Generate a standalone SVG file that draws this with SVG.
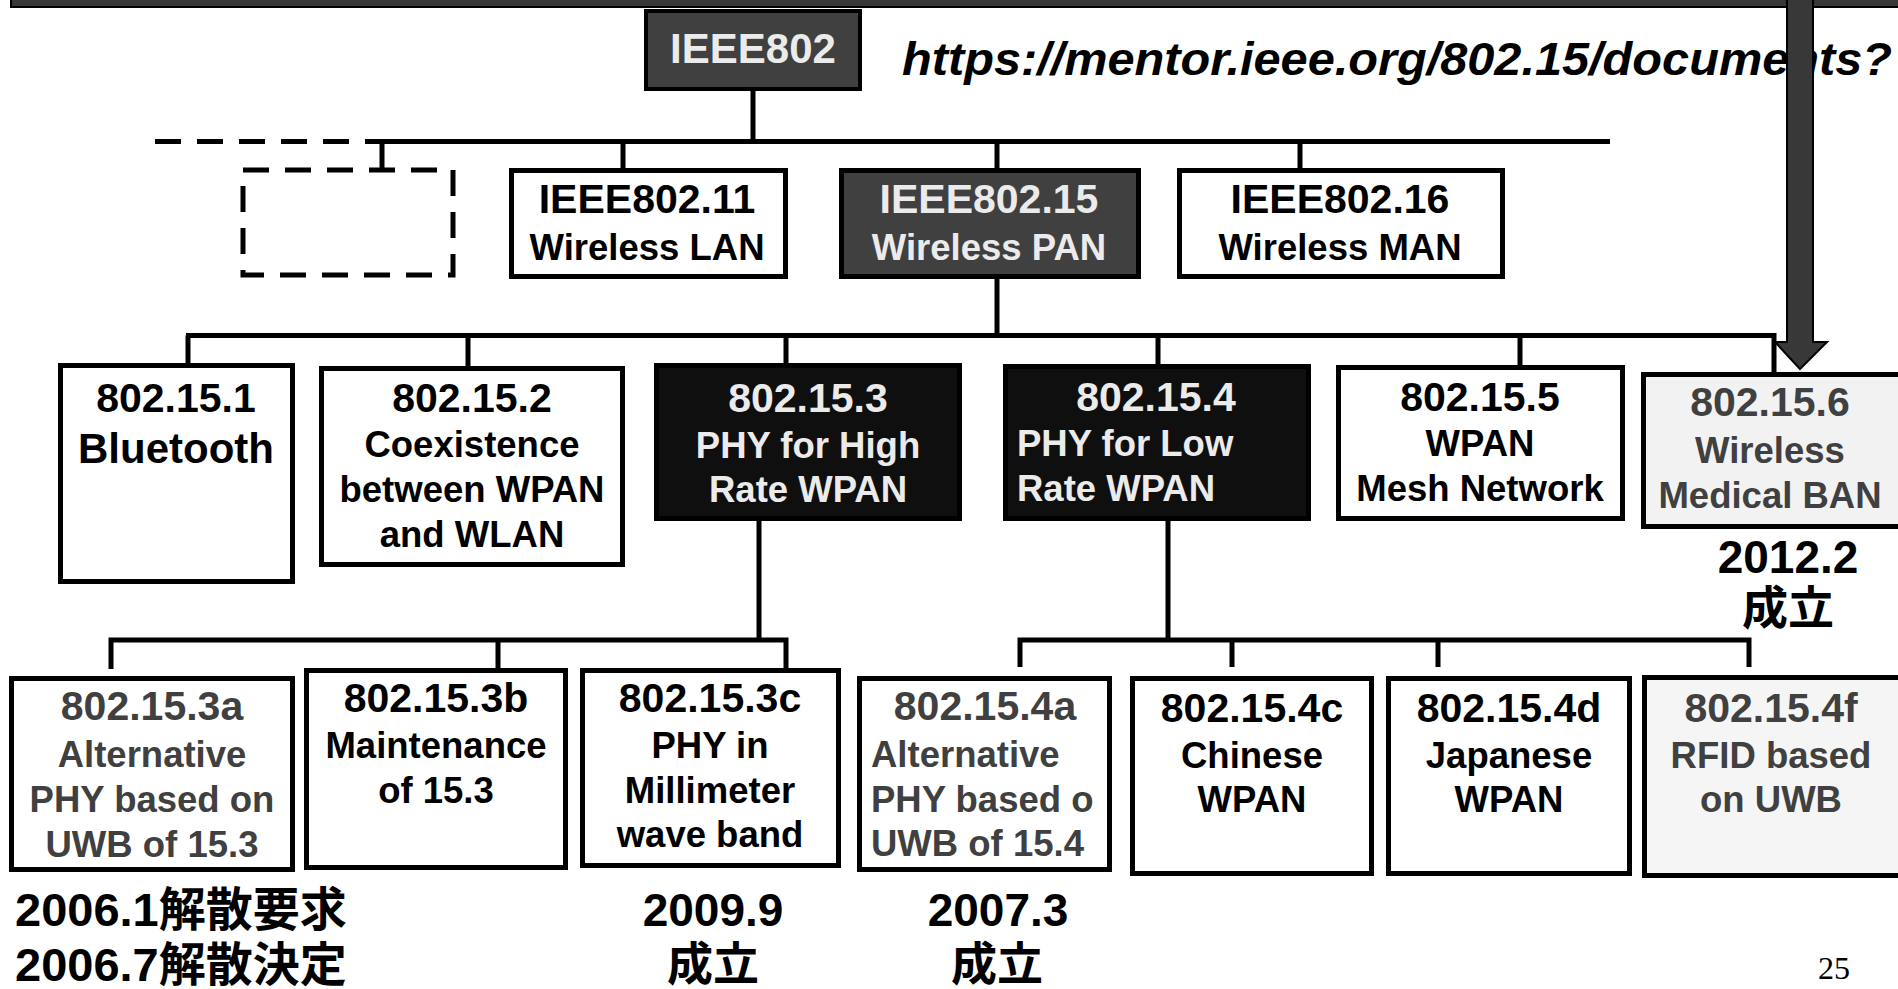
<svg xmlns="http://www.w3.org/2000/svg" width="1898" height="989" viewBox="0 0 1898 989">
<style>
text{font-family:"Liberation Sans","Noto Sans CJK JP",sans-serif;font-weight:bold;text-anchor:middle}
.t{font-size:41px}
.d{font-size:36.5px}
.big{font-size:46px}
.w{fill:#ffffff;stroke:#000;stroke-width:5}
.k{fill:#0f0f0f;stroke:#000;stroke-width:5}
.g{fill:#404040;stroke:#000;stroke-width:4}
.l{fill:#f2f2f2;stroke:#000;stroke-width:5}
.lt{fill:#ebebeb}
.gt{fill:#404040}
.bt{fill:#000}
.c{fill:none;stroke:#000;stroke-width:5}
.dash{fill:none;stroke:#000;stroke-width:5;stroke-dasharray:26 16}
</style>
<rect x="0" y="0" width="1898" height="989" fill="#fff"/>
<rect x="11" y="-10" width="1900" height="17" fill="#383838" stroke="#000" stroke-width="2"/>
<text x="902" y="75" style="font-size:46px;font-style:italic;text-anchor:start" textLength="990" lengthAdjust="spacingAndGlyphs">https://mentor.ieee.org/802.15/documents?</text>
<g id="connectors">
<path class="c" d="M753 91V141.5M370 141.5H1610M382 141.5V170M623 141.5V168M997 141.5V168M1300 141.5V168"/>
<path class="dash" d="M155 141.5H370"/>
<path class="c" d="M997 279V335.5M186 335.5H1774V379M188 335.5V364M468 335.5V367M786 335.5V364M1158 335.5V365M1520 335.5V366"/>
<path class="c" d="M759 521V640M108.5 640H788.5M111 640V669M498 640V669M786 640V669"/>
<path class="c" d="M1168 521V640M1017.5 640H1751.5M1020 640V667M1232 640V667M1438 640V667M1749 640V667"/>
</g>
<g id="ieee802"><rect class="g" x="646" y="11" width="214" height="78"/><text class="lt" x="753" y="63" style="font-size:42px">IEEE802</text></g>
<g id="dashed-node"><rect class="dash" x="243" y="170" width="210" height="105"/></g>
<g id="ieee802-11"><rect class="w" x="511.5" y="170.5" width="274" height="106"/><text class="t bt" x="647" y="213">IEEE802.11</text><text class="d bt" x="647" y="260">Wireless LAN</text></g>
<g id="ieee802-15"><rect class="g" x="841.5" y="170.5" width="297" height="106" style="stroke-width:5"/><text class="t lt" x="989" y="213">IEEE802.15</text><text class="d lt" x="989" y="260">Wireless PAN</text></g>
<g id="ieee802-16"><rect class="w" x="1179.5" y="170.5" width="323" height="106"/><text class="t bt" x="1340" y="213">IEEE802.16</text><text class="d bt" x="1340" y="260">Wireless MAN</text></g>
<g id="n802-15-1"><rect class="w" x="60.5" y="365.5" width="232" height="216"/><text class="t bt" x="176" y="412">802.15.1</text><text class="bt" x="176" y="463" style="font-size:42px">Bluetooth</text></g>
<g id="n802-15-2"><rect class="w" x="321.5" y="368.5" width="301" height="196"/><text class="t bt" x="472" y="412">802.15.2</text><text class="d bt" x="472" y="457">Coexistence</text><text class="d bt" x="472" y="502">between WPAN</text><text class="d bt" x="472" y="547">and WLAN</text></g>
<g id="n802-15-3"><rect class="k" x="656.5" y="365.5" width="303" height="153"/><text class="t lt" x="808" y="412">802.15.3</text><text class="d lt" x="808" y="458">PHY for High</text><text class="d lt" x="808" y="502">Rate WPAN</text></g>
<g id="n802-15-4"><rect class="k" x="1005.5" y="366.5" width="303" height="152"/><text class="t lt" x="1156" y="411">802.15.4</text><text class="d lt" x="1017" y="456" style="text-anchor:start">PHY for Low</text><text class="d lt" x="1017" y="501" style="text-anchor:start">Rate WPAN</text></g>
<g id="n802-15-5"><rect class="w" x="1338.5" y="367.5" width="284" height="151"/><text class="t bt" x="1480" y="411">802.15.5</text><text class="d bt" x="1480" y="456">WPAN</text><text class="d bt" x="1480" y="501">Mesh Network</text></g>
<g id="n802-15-6"><rect class="l" x="1643.5" y="374.5" width="262" height="152"/><text class="t gt" x="1770" y="416">802.15.6</text><text class="d gt" x="1770" y="463">Wireless</text><text class="d gt" x="1770" y="508">Medical BAN</text></g>
<g id="n802-15-3a"><rect class="w" x="11.5" y="678.5" width="281" height="191"/><text class="t gt" x="152" y="720">802.15.3a</text><text class="d gt" x="152" y="767">Alternative</text><text class="d gt" x="152" y="812">PHY based on</text><text class="d gt" x="152" y="857">UWB of 15.3</text></g>
<g id="n802-15-3b"><rect class="w" x="306.5" y="670.5" width="259" height="197"/><text class="t bt" x="436" y="712">802.15.3b</text><text class="d bt" x="436" y="758">Maintenance</text><text class="d bt" x="436" y="803">of 15.3</text></g>
<g id="n802-15-3c"><rect class="w" x="582.5" y="670.5" width="256" height="195"/><text class="t bt" x="710" y="712">802.15.3c</text><text class="d bt" x="710" y="758">PHY in</text><text class="d bt" x="710" y="803">Millimeter</text><text class="d bt" x="710" y="847">wave band</text></g>
<g id="n802-15-4a"><rect class="w" x="859.5" y="678.5" width="250" height="191"/><text class="t gt" x="985" y="720">802.15.4a</text><text class="d gt" x="871" y="767" style="text-anchor:start">Alternative</text><text class="d gt" x="871" y="812" style="text-anchor:start">PHY based o</text><text class="d gt" x="871" y="856" style="text-anchor:start">UWB of 15.4</text></g>
<g id="n802-15-4c"><rect class="w" x="1132.5" y="678.5" width="239" height="195"/><text class="t bt" x="1252" y="722">802.15.4c</text><text class="d bt" x="1252" y="768">Chinese</text><text class="d bt" x="1252" y="812">WPAN</text></g>
<g id="n802-15-4d"><rect class="w" x="1388.5" y="678.5" width="241" height="195"/><text class="t bt" x="1509" y="722">802.15.4d</text><text class="d bt" x="1509" y="768">Japanese</text><text class="d bt" x="1509" y="812">WPAN</text></g>
<g id="n802-15-4f"><rect class="l" x="1644.5" y="677.5" width="262" height="198" style="fill:#f5f5f5"/><text class="t gt" x="1771" y="722">802.15.4f</text><text class="d gt" x="1771" y="768">RFID based</text><text class="d gt" x="1771" y="812">on UWB</text></g>
<g id="notes">
<text class="big bt" x="1788" y="573">2012.2</text><text class="big bt" x="1788" y="624">成立</text>
<text class="bt" x="15" y="926" style="text-anchor:start;font-size:47px">2006.1解散要求</text>
<text class="bt" x="15" y="981" style="text-anchor:start;font-size:47px">2006.7解散決定</text>
<text class="big bt" x="713" y="926">2009.9</text><text class="big bt" x="713" y="980">成立</text>
<text class="big bt" x="998" y="926">2007.3</text><text class="big bt" x="997" y="980">成立</text>
<text x="1834" y="979" style="font-family:'Liberation Serif',serif;font-weight:normal;font-size:32px">25</text>
</g>
<g id="arrow"><path d="M1787 -5H1813V342H1827L1800 369L1775 342H1787Z" fill="#383838" stroke="#000" stroke-width="2"/></g>
</svg>
